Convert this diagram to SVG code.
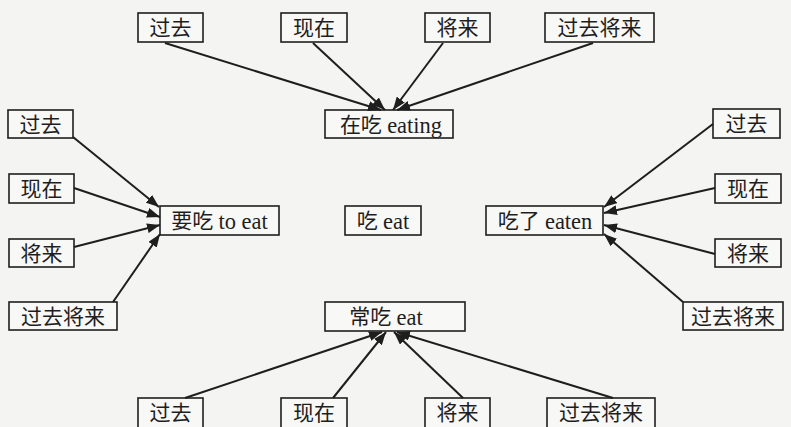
<svg xmlns="http://www.w3.org/2000/svg" width="791" height="427" viewBox="0 0 791 427">
<style>
.bg{fill:#f4f4f2}
.box{fill:#f8f8f7;stroke:#1e1e1e;stroke-width:1.6}
.t{font-family:"Liberation Serif","Noto Sans CJK SC","Noto Serif CJK SC",serif;font-size:21px;fill:#1e1e1e;text-anchor:middle;dominant-baseline:central}
.en{font-size:22.5px}
.c line{stroke:#1e1e1e;stroke-width:2;marker-end:url(#ah)}
</style>
<defs>
<marker id="ah" viewBox="0 0 13 10" refX="13" refY="5" markerWidth="13" markerHeight="10" markerUnits="userSpaceOnUse" orient="auto">
<path d="M0,0 L13,5 L0,10 z" fill="#1e1e1e"/>
</marker>
</defs>
<rect class="bg" x="0" y="0" width="791" height="427"/>

<g id="top-guoqu"><rect class="box" x="138" y="13" width="65" height="29"/><text class="t" x="170.5" y="28">过去</text></g>
<g id="top-xianzai"><rect class="box" x="281" y="13" width="66" height="29"/><text class="t" x="314" y="28">现在</text></g>
<g id="top-jianglai"><rect class="box" x="425" y="13" width="65" height="29"/><text class="t" x="457.5" y="28">将来</text></g>
<g id="top-guoqujianglai"><rect class="box" x="545" y="13" width="109" height="29"/><text class="t" x="599.5" y="28">过去将来</text></g>

<g id="zaichi"><rect class="box" x="325" y="110" width="128" height="28"/><text class="t" x="391" y="124.5">在吃 <tspan class="en">eating</tspan></text></g>

<g id="left-guoqu"><rect class="box" x="8" y="110" width="65" height="28"/><text class="t" x="40.5" y="124.5">过去</text></g>
<g id="left-xianzai"><rect class="box" x="9" y="174" width="65" height="29"/><text class="t" x="41.5" y="189">现在</text></g>
<g id="left-jianglai"><rect class="box" x="9" y="239" width="65" height="28"/><text class="t" x="41.5" y="253.5">将来</text></g>
<g id="left-guoqujianglai"><rect class="box" x="9" y="302" width="108" height="28"/><text class="t" x="63" y="316.5">过去将来</text></g>

<g id="yaochi"><rect class="box" x="160" y="206" width="119" height="29"/><text class="t" x="219.5" y="221">要吃 <tspan class="en">to eat</tspan></text></g>
<g id="chi"><rect class="box" x="345" y="206" width="76" height="29"/><text class="t" x="383" y="221">吃 <tspan class="en">eat</tspan></text></g>
<g id="chile"><rect class="box" x="486" y="206" width="117" height="29"/><text class="t" x="545" y="221">吃了 <tspan class="en">eaten</tspan></text></g>

<g id="right-guoqu"><rect class="box" x="713" y="109" width="67" height="29"/><text class="t" x="746.5" y="124">过去</text></g>
<g id="right-xianzai"><rect class="box" x="715" y="174" width="66" height="29"/><text class="t" x="748" y="189">现在</text></g>
<g id="right-jianglai"><rect class="box" x="715" y="239" width="66" height="28"/><text class="t" x="748" y="253.5">将来</text></g>
<g id="right-guoqujianglai"><rect class="box" x="683" y="302" width="100" height="28"/><text class="t" x="733" y="316.5">过去将来</text></g>

<g id="changchi"><rect class="box" x="325" y="302" width="140" height="29"/><text class="t" x="386" y="317">常吃 <tspan class="en">eat</tspan></text></g>

<g id="bottom-guoqu"><rect class="box" x="138" y="398" width="65" height="31"/><text class="t" x="170.5" y="413">过去</text></g>
<g id="bottom-xianzai"><rect class="box" x="281" y="398" width="66" height="31"/><text class="t" x="314" y="413">现在</text></g>
<g id="bottom-jianglai"><rect class="box" x="425" y="398" width="65" height="31"/><text class="t" x="457.5" y="413">将来</text></g>
<g id="bottom-guoqujianglai"><rect class="box" x="547" y="398" width="108" height="31"/><text class="t" x="601" y="413">过去将来</text></g>

<g id="connectors" class="c">
<line x1="165" y1="43" x2="381" y2="110"/>
<line x1="313" y1="43" x2="385" y2="110"/>
<line x1="443" y1="43" x2="393" y2="110"/>
<line x1="593" y1="43" x2="397" y2="110"/>

<line x1="73" y1="137" x2="159" y2="207"/>
<line x1="74" y1="188" x2="160" y2="217"/>
<line x1="74" y1="247" x2="160" y2="225"/>
<line x1="113" y1="302" x2="160" y2="234"/>

<line x1="713" y1="124" x2="604" y2="207"/>
<line x1="715" y1="188" x2="604" y2="213"/>
<line x1="715" y1="254" x2="604" y2="225"/>
<line x1="683" y1="302" x2="604" y2="234"/>

<line x1="185" y1="398" x2="382" y2="332"/>
<line x1="333" y1="398" x2="386" y2="332"/>
<line x1="463" y1="398" x2="394" y2="332"/>
<line x1="613" y1="398" x2="397" y2="332"/>
</g>
</svg>
